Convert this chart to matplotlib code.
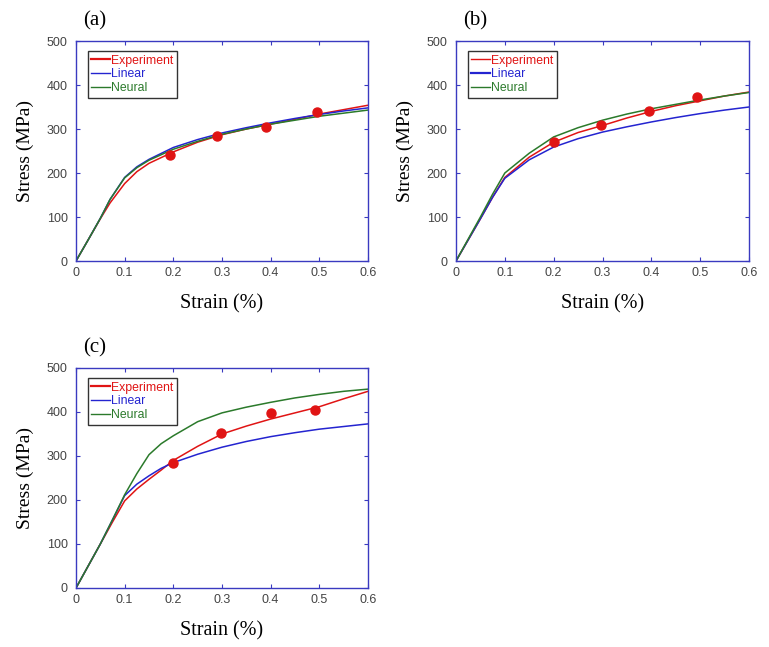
import numpy as np
import matplotlib
matplotlib.use("Agg")
import matplotlib.pyplot as plt

# panel (a)
a_strain = [0, 0.025, 0.05, 0.07, 0.1, 0.125, 0.15, 0.2, 0.25, 0.3, 0.35, 0.4, 0.45, 0.5, 0.55, 0.6]
a_exp = [0, 48, 96, 132, 176, 203, 222, 248, 270, 287, 300, 311, 322, 334, 344, 354]
a_lin = [0, 48, 97, 140, 190, 214, 231, 258, 276, 291, 303, 314, 324, 333, 341, 348]
a_neu = [0, 48, 97, 140, 189, 212, 229, 254, 272, 288, 300, 311, 320, 329, 336, 343]
a_pts_x = [0.193, 0.29, 0.39, 0.495]
a_pts_y = [240, 285, 304, 339]

# panel (b)
b_strain = [0, 0.025, 0.05, 0.075, 0.1, 0.15, 0.2, 0.25, 0.3, 0.35, 0.4, 0.45, 0.5, 0.55, 0.6]
b_exp = [0, 48, 96, 145, 190, 236, 270, 292, 308, 325, 340, 353, 364, 375, 384]
b_lin = [0, 48, 96, 145, 188, 230, 259, 278, 293, 305, 316, 326, 335, 343, 350]
b_neu = [0, 50, 100, 152, 200, 245, 282, 303, 320, 334, 346, 356, 366, 375, 383]
b_pts_x = [0.2, 0.297, 0.395, 0.493]
b_pts_y = [270, 308, 340, 372]

# panel (c)
c_strain = [0, 0.025, 0.05, 0.075, 0.1, 0.125, 0.15, 0.175, 0.2, 0.25, 0.3, 0.35, 0.4, 0.45, 0.5, 0.55, 0.6]
c_exp = [0, 50, 100, 150, 198, 225, 247, 268, 290, 322, 350, 368, 384, 398, 412, 430, 447]
c_lin = [0, 50, 100, 155, 210, 236, 255, 272, 285, 304, 320, 333, 344, 353, 361, 367, 373]
c_neu = [0, 50, 100, 155, 212, 260, 303, 328, 346, 378, 398, 411, 422, 432, 440, 447, 452]
c_pts_x = [0.2, 0.297, 0.4, 0.492]
c_pts_y = [284, 353, 397, 405]

RED = "#e01414"
BLUE = "#2424d0"
GREEN = "#2b7a2b"
SPINE = "#3a3ac0"
W, H = 769, 647

fig = plt.figure(figsize=(W / 100, H / 100), dpi=100)

panels = [
    ("(a)", (76, 41, 368, 261), a_strain, a_exp, a_lin, a_neu, a_pts_x, a_pts_y, (1.6, 1.0, 1.0)),
    ("(b)", (456, 41, 749, 261), b_strain, b_exp, b_lin, b_neu, b_pts_x, b_pts_y, (1.0, 1.6, 1.0)),
    ("(c)", (76, 368, 368, 588), c_strain, c_exp, c_lin, c_neu, c_pts_x, c_pts_y, (1.6, 1.0, 1.0)),
]

for label, (x0, y0, x1, y1), sx, e, l, n, px, py, lws in panels:
    ax = fig.add_axes([x0 / W, (H - y1) / H, (x1 - x0) / W, (y1 - y0) / H])
    ax.plot(sx, e, color=RED, lw=1.1, label="Experiment")
    ax.plot(sx, l, color=BLUE, lw=1.1, label="Linear")
    ax.plot(sx, n, color=GREEN, lw=1.1, label="Neural")
    ax.plot(px, py, "o", color=RED, ms=6.5, zorder=5)
    ax.set_xlim(0, 0.6)
    ax.set_ylim(0, 500)
    ax.set_xticks(np.arange(0, 0.61, 0.1))
    ax.set_xticklabels(["0", "0.1", "0.2", "0.3", "0.4", "0.5", "0.6"])
    ax.set_yticks(range(0, 501, 100))
    for s in ax.spines.values():
        s.set_color(SPINE)
        s.set_linewidth(1.0)
    ax.tick_params(direction="in", length=3, color=SPINE, top=True, right=True,
                   labelsize=9, labelcolor="#444444")
    ax.tick_params(axis="x", pad=4)
    ax.tick_params(axis="y", pad=6)
    for t in ax.get_xticklabels() + ax.get_yticklabels():
        t.set_fontfamily("Liberation Sans")
    ax.set_xlabel("Strain (%)", fontsize=14.5, fontfamily="Liberation Serif", labelpad=11)
    ax.set_ylabel("Stress (MPa)", fontsize=14, fontfamily="Liberation Serif", labelpad=9)
    leg = ax.legend(loc="upper left", bbox_to_anchor=(0.04, 0.955),
                    prop={"family": "Liberation Sans", "size": 8.8},
                    frameon=True, fancybox=False, handlelength=1.5, handletextpad=0.1,
                    borderpad=0.3, labelspacing=0.15, borderaxespad=0)
    leg.get_frame().set_edgecolor("black")
    leg.get_frame().set_linewidth(1.0)
    for txt, c in zip(leg.get_texts(), [RED, BLUE, GREEN]):
        txt.set_color(c)
    for h, w in zip(leg.get_lines(), lws):
        h.set_linewidth(w)
    fig.text((x0 + 7) / W, 1 - (y0 - 20) / H, label, fontsize=15,
             fontfamily="Liberation Serif", va="center", ha="left")

fig.savefig("out.png", dpi=100)
